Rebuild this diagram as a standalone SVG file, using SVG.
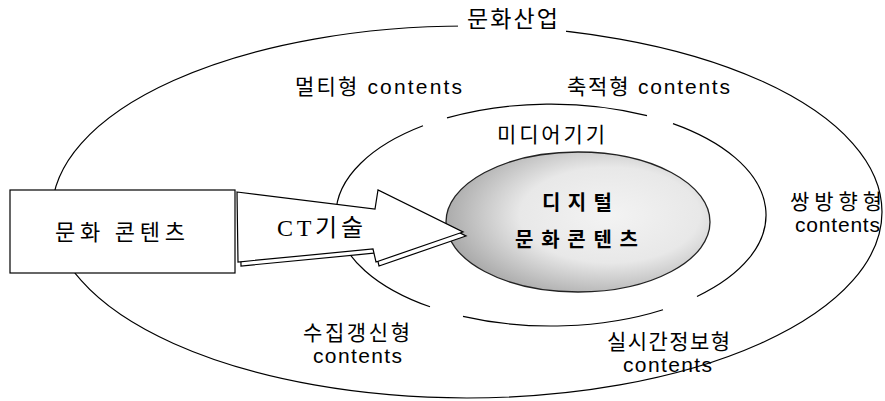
<svg xmlns="http://www.w3.org/2000/svg" width="885" height="401" viewBox="0 0 885 401">
<defs>
<style>
.ln{fill:none;stroke:#000;stroke-width:1.2}
.t{font-family:"Liberation Sans","Noto Sans CJK KR",sans-serif;font-size:21px;fill:#000}
.k{font-family:"Noto Sans CJK KR",sans-serif;fill:#000}
.b{font-family:"Noto Sans CJK KR",sans-serif;font-weight:bold;fill:#000}
.s{font-family:"Liberation Serif","Noto Sans CJK KR",serif;font-size:24px;fill:#000}
.w{fill:#fff;stroke:#000;stroke-width:1.2}
</style>
<radialGradient id="g" cx="0.62" cy="0.45" r="0.62">
<stop offset="0" stop-color="#f3f3f3"/>
<stop offset="0.55" stop-color="#e8e8e8"/>
<stop offset="1" stop-color="#ababab"/>
</radialGradient>
</defs>
<g id="rings">
<ellipse class="ln" cx="467" cy="212" rx="415" ry="186"/>
<rect x="458" y="8" width="108" height="26" fill="#fff"/>
<path class="ln" d="M430,306.8 A215,111 0 0 1 423,125.8"/>
<path class="ln" d="M447,117.9 A215,111 0 0 1 647,115.7"/>
<path class="ln" d="M673,123.6 A215,111 0 0 1 697,296.5"/>
<path class="ln" d="M663,309.7 A215,111 0 0 1 463,316.3"/>
</g>
<g id="digital">
<ellipse cx="578" cy="222" rx="132" ry="70" fill="url(#g)" stroke="#222" stroke-width="1.3"/>
<text class="b" x="542" y="210" font-size="20" textLength="70" lengthAdjust="spacing">디지털</text>
<text class="b" x="515" y="247" font-size="20" textLength="123" lengthAdjust="spacing">문화콘텐츠</text>
</g>
<g id="connectors">
<polygon class="w" points="240,196 378,213 381,194 466,236 379,266 376,253 241,266"/>
<polygon class="w" points="237,192 375,209 378,190 463,232 376,262 373,249 238,262"/>
<text class="s" x="277" y="236" textLength="86" lengthAdjust="spacing">CT기술</text>
</g>
<g id="source">
<rect class="w" x="10" y="190" width="225" height="83"/>
<text class="k" x="55" y="240" font-size="22" textLength="130" lengthAdjust="spacing">문화 콘텐츠</text>
</g>
<g id="labels">
<text class="k" x="467" y="27" font-size="23" textLength="91" lengthAdjust="spacing">문화산업</text>
<text class="t" x="295" y="94" textLength="167" lengthAdjust="spacing">멀티형 contents</text>
<text class="t" x="567" y="94" textLength="163" lengthAdjust="spacing">축적형 contents</text>
<text class="t" x="497" y="142" textLength="108" lengthAdjust="spacing">미디어기기</text>
<text class="t" x="790" y="209" textLength="92" lengthAdjust="spacing">쌍방향형</text>
<text class="t" x="795" y="232" textLength="85" lengthAdjust="spacing">contents</text>
<text class="t" x="303" y="340" textLength="107" lengthAdjust="spacing">수집갱신형</text>
<text class="t" x="313" y="363" textLength="89" lengthAdjust="spacing">contents</text>
<text class="t" x="607" y="349" textLength="123" lengthAdjust="spacing">실시간정보형</text>
<text class="t" x="623" y="372" textLength="89" lengthAdjust="spacing">contents</text>
</g>
</svg>
